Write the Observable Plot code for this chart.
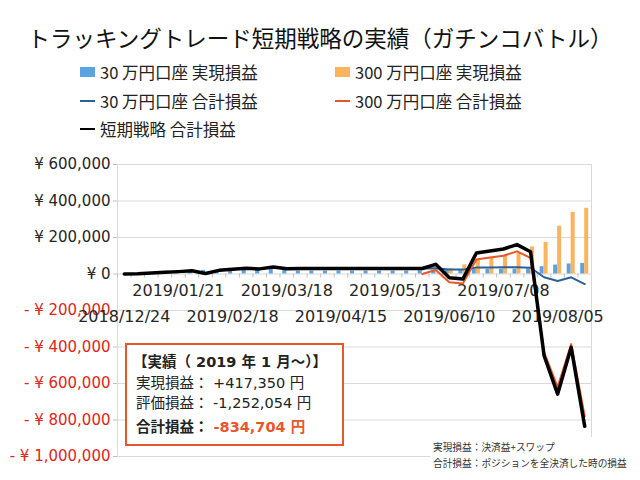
<!DOCTYPE html>
<html><head><meta charset="utf-8">
<script src="https://cdn.jsdelivr.net/npm/d3@7"></script>
<script src="https://cdn.jsdelivr.net/npm/@observablehq/plot@0.6"></script>
<style>
body{margin:0;background:#fff;}
#wrap{position:relative;width:640px;height:480px;overflow:hidden;font-family:"Noto Sans CJK JP",sans-serif;color:#222;}
#title{position:absolute;left:0;top:21px;width:640px;text-align:center;font-size:22.5px;line-height:32px;color:#111;white-space:nowrap;}
.leg{position:absolute;display:flex;align-items:center;height:20px;font-size:16.5px;white-space:nowrap;color:#222;}
.sw{width:15px;height:10px;margin-right:5px;}
.ln{width:15px;height:2px;margin-right:5px;}
#chart{position:absolute;left:0;top:145px;}
#box{position:absolute;left:125px;top:343px;width:215px;height:99px;border:2px solid #E8572A;background:#fff;}
#box div{position:absolute;font-family:"DejaVu Sans","Noto Sans CJK JP",sans-serif;font-size:14.5px;line-height:20px;white-space:nowrap;color:#222;}
#notes{position:absolute;left:430px;top:437px;width:210px;height:43px;background:#fff;}
#notes div{position:absolute;left:3px;font-size:9.7px;line-height:14px;white-space:nowrap;color:#333;}
</style>
</head><body>
<div id="wrap">
  <div id="title">トラッキングトレード短期戦略の実績（ガチンコバトル）</div>
  <div class="leg" style="left:80px;top:62px"><span class="sw" style="background:#5AA5DF"></span>30 万円口座 実現損益</div>
  <div class="leg" style="left:335px;top:62px"><span class="sw" style="background:#FBB35E"></span>300 万円口座 実現損益</div>
  <div class="leg" style="left:80px;top:91px"><span class="ln" style="background:#2F5F97"></span>30 万円口座 合計損益</div>
  <div class="leg" style="left:335px;top:91px"><span class="ln" style="background:#E8572A"></span>300 万円口座 合計損益</div>
  <div class="leg" style="left:80px;top:119px"><span class="ln" style="background:#000"></span>短期戦略 合計損益</div>
  <div id="chart"></div>
  <div id="box">
    <div style="left:6px;top:6.5px;font-weight:bold">【実績（ 2019 年 1 月～）】</div>
    <div style="left:9px;top:27.7px">実現損益： +417,350 円</div>
    <div style="left:9px;top:47.7px">評価損益： -1,252,054 円</div>
    <div style="left:9px;top:72px;font-weight:bold">合計損益： <span style="color:#E8572A">-834,704 円</span></div>
  </div>
  <div id="notes">
    <div style="top:2.7px">実現損益：決済益+スワップ</div>
    <div style="top:19.3px">合計損益：ポジションを全決済した時の損益</div>
  </div>
</div>
<script>
const dates = ["2018/12/24","2018/12/31","2019/01/07","2019/01/14","2019/01/21","2019/01/28","2019/02/04","2019/02/11","2019/02/18","2019/02/25","2019/03/04","2019/03/11","2019/03/18","2019/03/25","2019/04/01","2019/04/08","2019/04/15","2019/04/22","2019/04/29","2019/05/06","2019/05/13","2019/05/20","2019/05/27","2019/06/03","2019/06/10","2019/06/17","2019/06/24","2019/07/01","2019/07/08","2019/07/15","2019/07/22","2019/07/29","2019/08/05","2019/08/12","2019/08/19"];
// 30万円口座 実現損益 (bars)
const blueRealized = [0,1000,4000,8000,12000,16000,20000,20000,24000,27000,26000,30000,28000,16000,16000,16000,16000,16000,16000,16000,16000,16000,18000,18000,20000,20000,25000,26000,27000,27000,28000,40000,49000,55000,58000];
// 300万円口座 実現損益 (bars)
const orangeRealized = [null,null,null,null,null,null,null,null,null,null,null,null,null,null,null,null,null,null,null,null,null,null,0,5000,29000,50000,75000,88000,102000,112000,148000,173000,262000,338000,360000];
// 30万円口座 合計損益 (line)
const blueTotal = [0,1000,5000,9000,13000,18000,3000,20000,26000,31000,28000,38000,29000,30000,30000,30000,30000,30000,30000,30000,30000,30000,30000,31000,25000,24000,35000,36000,37000,37000,34000,-18000,-38000,-18000,-55000];
// 300万円口座 合計損益 (line)
const orangeTotal = [null,null,null,null,null,null,null,null,null,null,null,null,null,null,null,null,null,null,null,null,null,null,0,22000,-45000,-52000,80000,90000,100000,124000,88000,-430000,-620000,-384000,-780000];
// 短期戦略 合計損益 (line)
const strategyTotal = [0,1000,5000,9000,13000,18000,3000,20000,26000,31000,28000,38000,29000,30000,30000,30000,30000,30000,30000,30000,30000,30000,30000,53000,-20000,-28000,115000,126000,137000,161000,122000,-448000,-658000,-402000,-834704];
const yTicks = [-1000000,-800000,-600000,-400000,-200000,0,200000,400000,600000];
const upperLabels = ["2019/01/21","2019/03/18","2019/05/13","2019/07/08"];
const lowerLabels = ["2018/12/24","2019/02/18","2019/04/15","2019/06/10","2019/08/05"];

const rows = dates.map((date, i) => ({date, br: blueRealized[i], or: orangeRealized[i], bt: blueTotal[i], ot: orangeTotal[i], st: strategyTotal[i]}));
const W = 640, H = 335, mL = 117, mR = 49, mT = 19, mB = 24;
const step = (W - mL - mR) / dates.length;
const fmt = d3.format(",");
const fmtY = d => d === 0 ? "¥ 0" : d > 0 ? "¥ " + fmt(d) : "- ¥ " + fmt(-d);

const chart = Plot.plot({
  width: W, height: H, marginLeft: mL, marginRight: mR, marginTop: mT, marginBottom: mB,
  x: {type: "band", domain: dates, padding: 0, round: false, axis: null},
  y: {domain: [-1000000, 600000], axis: null},
  style: {background: "transparent", overflow: "visible"},
  marks: [
    Plot.gridY(yTicks, {stroke: "#d9d9d9", strokeOpacity: 1}),
    Plot.frame({stroke: "#d9d9d9"}),
    Plot.axisY(yTicks, {tickSize: 4, tickFormat: () => "", stroke: "#bfbfbf"}),
    Plot.ruleX(dates, {x: d => d, y1: () => 0, y2: () => -22000, dx: -step / 2, stroke: "#bfbfbf"}),
    Plot.text(yTicks, {y: d => d, frameAnchor: "left", dx: -7, textAnchor: "end", text: fmtY,
      fill: d => d < 0 ? "#E0251B" : "#262626", fontSize: 15, fontFamily: "DejaVu Sans"}),
    Plot.text(upperLabels, {x: d => d, y: () => 0, dy: 17, text: d => d, fill: "#262626", fontSize: 16, fontFamily: "DejaVu Sans"}),
    Plot.text(lowerLabels, {x: d => d, y: () => 0, dy: 43, text: d => d, fill: "#262626", fontSize: 16, fontFamily: "DejaVu Sans"}),
    Plot.barY(rows, {x: "date", y: "br", fill: "#5AA5DF", insetLeft: step / 2 - 4, insetRight: step / 2}),
    Plot.barY(rows, {x: "date", y: "or", fill: "#FBB35E", insetLeft: step / 2, insetRight: step / 2 - 4}),
    Plot.lineY(rows, {x: "date", y: "bt", stroke: "#2F5F97", strokeWidth: 2}),
    Plot.lineY(rows, {x: "date", y: "ot", stroke: "#E8572A", strokeWidth: 2}),
    Plot.lineY(rows, {x: "date", y: "st", stroke: "#000", strokeWidth: 3.5})
  ]
});
document.getElementById("chart").appendChild(chart);
</script>
</body></html>
